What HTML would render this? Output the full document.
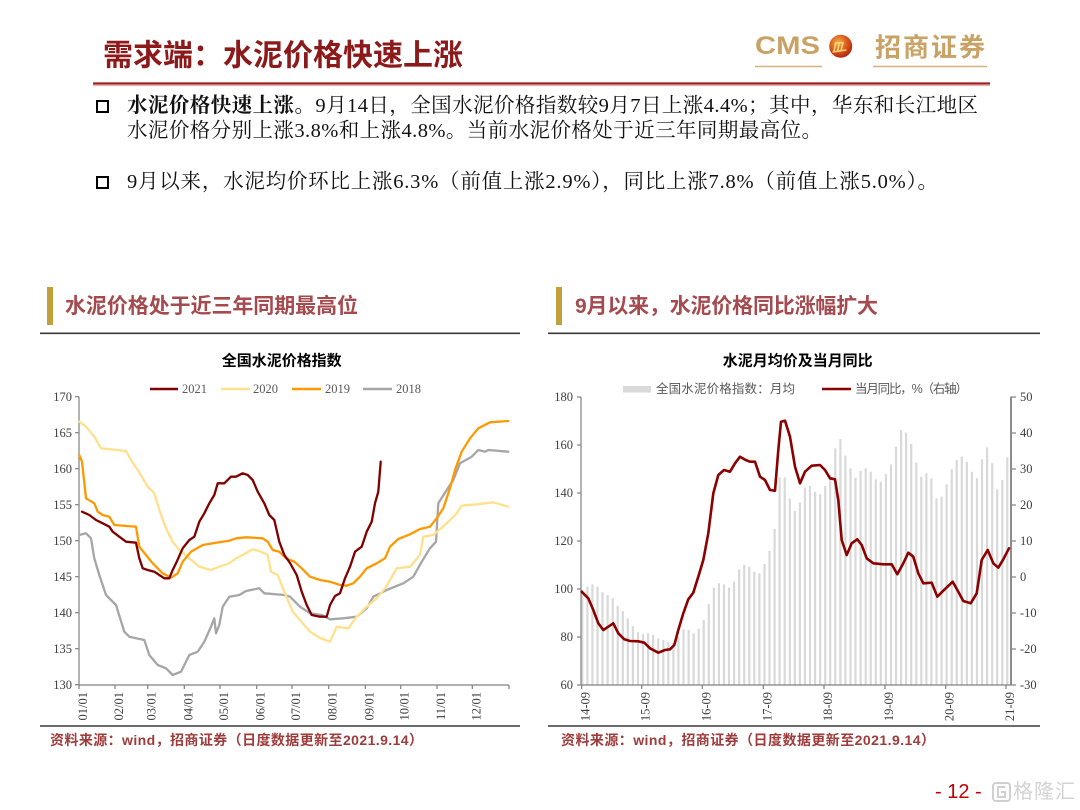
<!DOCTYPE html>
<html><head><meta charset="utf-8"><style>
html,body{margin:0;padding:0;background:#fff;}
#page{position:relative;width:1080px;height:810px;overflow:hidden;background:#fff;}
.sq{position:absolute;width:9px;height:9px;border:2px solid #000;}
svg text{font-family:"Liberation Serif","Noto Serif CJK SC",serif;}
.sans{font-family:"Liberation Sans","Noto Sans CJK SC",sans-serif !important;}
</style></head><body><div id="page">
<svg width="1080" height="810" viewBox="0 0 1080 810" style="position:absolute;left:0;top:0">
<defs>
<radialGradient id="lg" cx="40%" cy="35%" r="70%"><stop offset="0" stop-color="#f7b347"/><stop offset="0.6" stop-color="#d9501c"/><stop offset="1" stop-color="#a52010"/></radialGradient>
</defs>
<!-- header -->
<text class="sans" x="103" y="56" font-size="30" font-weight="bold" fill="#8c1a1a" dominant-baseline="central" textLength="360">需求端：水泥价格快速上涨</text>
<text class="sans" x="755" y="46" font-size="25" font-weight="bold" fill="#c9a265" dominant-baseline="central" textLength="65" lengthAdjust="spacingAndGlyphs">CMS</text>
<circle cx="840.7" cy="46.3" r="11.5" fill="url(#lg)"/>
<path d="M834 51 L836 42 M837.5 51 L839.5 42 M841 51 L843 42 M834.5 45 Q837 41 839 44 Q841 41 843.5 44 M832.5 52 L846.5 50" stroke="#f6d47a" stroke-width="1.6" fill="none"/>
<text class="sans" x="875" y="47.5" font-size="26" font-weight="bold" fill="#c9a265" dominant-baseline="central" textLength="110">招商证券</text>
<line x1="755" y1="66.5" x2="822" y2="66.5" stroke="#d4b47c" stroke-width="1.5"/>
<line x1="873" y1="66.5" x2="987" y2="66.5" stroke="#d4b47c" stroke-width="1.5"/>
<line x1="93" y1="83.5" x2="990" y2="83.5" stroke="#a11d1d" stroke-width="2.2"/>
<line x1="93" y1="85.6" x2="990" y2="85.6" stroke="#dcaaaa" stroke-width="1"/>

<!-- paragraph text -->
<text x="127" y="106" font-size="20.5" fill="#111" dominant-baseline="central" textLength="851" lengthAdjust="spacing"><tspan font-weight="bold">水泥价格快速上涨。</tspan>9月14日，全国水泥价格指数较9月7日上涨4.4%；其中，华东和长江地区</text>
<text x="127" y="131" font-size="20.5" fill="#111" dominant-baseline="central" textLength="695" lengthAdjust="spacing">水泥价格分别上涨3.8%和上涨4.8%。当前水泥价格处于近三年同期最高位。</text>
<text x="127" y="182" font-size="20.5" fill="#111" dominant-baseline="central" textLength="811" lengthAdjust="spacing">9月以来，水泥均价环比上涨6.3%（前值上涨2.9%），同比上涨7.8%（前值上涨5.0%）。</text>

<!-- section headers -->
<rect x="47" y="287" width="6" height="38" fill="#c2a03c"/>
<text class="sans" x="65" y="306.5" font-size="21" font-weight="bold" fill="#a54a4e" dominant-baseline="central" textLength="293">水泥价格处于近三年同期最高位</text>
<line x1="40" y1="333.3" x2="520" y2="333.3" stroke="#3a3a3a" stroke-width="1.6"/>
<rect x="556" y="287" width="6" height="38" fill="#c2a03c"/>
<text class="sans" x="575" y="306.5" font-size="21" font-weight="bold" fill="#a54a4e" dominant-baseline="central" textLength="303">9月以来，水泥价格同比涨幅扩大</text>
<line x1="548" y1="333.3" x2="1040" y2="333.3" stroke="#3a3a3a" stroke-width="1.6"/>

<!-- LEFT CHART -->
<text class="sans" x="281.7" y="361" font-size="15" font-weight="bold" fill="#000" text-anchor="middle" dominant-baseline="central" textLength="120">全国水泥价格指数</text>
<line x1="150" y1="389" x2="178" y2="389" stroke="#800000" stroke-width="2.5"/>
<text x="182" y="389" font-size="12.5" fill="#595959" dominant-baseline="central">2021</text>
<line x1="221" y1="389" x2="250" y2="389" stroke="#ffe08c" stroke-width="2.5"/>
<text x="253" y="389" font-size="12.5" fill="#595959" dominant-baseline="central">2020</text>
<line x1="292" y1="389" x2="321" y2="389" stroke="#ff9900" stroke-width="2.5"/>
<text x="325" y="389" font-size="12.5" fill="#595959" dominant-baseline="central">2019</text>
<line x1="363" y1="389" x2="392" y2="389" stroke="#a6a6a6" stroke-width="2.5"/>
<text x="396" y="389" font-size="12.5" fill="#595959" dominant-baseline="central">2018</text>

<g stroke="#808080" stroke-width="1.2">
<line x1="79" y1="396.7" x2="79" y2="685"/>
<line x1="79" y1="685" x2="509" y2="685"/>
<line x1="75" y1="396.7" x2="79" y2="396.7"/><line x1="75" y1="432.7" x2="79" y2="432.7"/><line x1="75" y1="468.7" x2="79" y2="468.7"/><line x1="75" y1="504.7" x2="79" y2="504.7"/><line x1="75" y1="540.7" x2="79" y2="540.7"/><line x1="75" y1="576.7" x2="79" y2="576.7"/><line x1="75" y1="612.7" x2="79" y2="612.7"/><line x1="75" y1="648.7" x2="79" y2="648.7"/><line x1="75" y1="684.7" x2="79" y2="684.7"/>
<line x1="79" y1="685" x2="79" y2="689"/><line x1="115" y1="685" x2="115" y2="689"/><line x1="147.7" y1="685" x2="147.7" y2="689"/><line x1="184.3" y1="685" x2="184.3" y2="689"/><line x1="220" y1="685" x2="220" y2="689"/><line x1="256.7" y1="685" x2="256.7" y2="689"/><line x1="292" y1="685" x2="292" y2="689"/><line x1="328.7" y1="685" x2="328.7" y2="689"/><line x1="365.3" y1="685" x2="365.3" y2="689"/><line x1="400.7" y1="685" x2="400.7" y2="689"/><line x1="437" y1="685" x2="437" y2="689"/><line x1="472.3" y1="685" x2="472.3" y2="689"/><line x1="509" y1="685" x2="509" y2="689"/>
</g>
<g font-size="12.5" fill="#404040" text-anchor="end">
<text x="72" y="401">170</text><text x="72" y="437">165</text><text x="72" y="473">160</text><text x="72" y="509">155</text><text x="72" y="545">150</text><text x="72" y="581">145</text><text x="72" y="617">140</text><text x="72" y="653">135</text><text x="72" y="689">130</text>
</g>
<g font-size="12.5" fill="#404040" text-anchor="end">
<text transform="translate(87,692) rotate(-90)">01/01</text>
<text transform="translate(123,692) rotate(-90)">02/01</text>
<text transform="translate(155.7,692) rotate(-90)">03/01</text>
<text transform="translate(192.3,692) rotate(-90)">04/01</text>
<text transform="translate(228,692) rotate(-90)">05/01</text>
<text transform="translate(264.7,692) rotate(-90)">06/01</text>
<text transform="translate(300,692) rotate(-90)">07/01</text>
<text transform="translate(336.7,692) rotate(-90)">08/01</text>
<text transform="translate(373.3,692) rotate(-90)">09/01</text>
<text transform="translate(408.7,692) rotate(-90)">10/01</text>
<text transform="translate(445,692) rotate(-90)">11/01</text>
<text transform="translate(480.3,692) rotate(-90)">12/01</text>
</g>
<g fill="none" stroke-width="2.3" stroke-linejoin="round" stroke-linecap="round">
<polyline stroke="#a6a6a6" points="79.3,535 86,533.3 91,538.3 94.3,558.3 99.3,575 106,595 116,605 124.3,631.7 129.3,636.7 144.3,640 149.3,655 157.7,665 166,668.3 172.7,675 181,671.7 189.3,655 197.7,651.7 204.3,641.7 211,626.7 214.3,618.3 216,633.3 219.3,625 222.7,606.7 229.3,596.7 239.3,595 246,591 259.3,588.3 264.3,593.3 284.3,595 290,596.7 300,606.7 310,613.3 321.7,615 330,619.3 343.3,618.3 356.7,616.7 366.7,608.3 373.3,596.7 386.7,590 403.3,583.3 413.3,576.7 421.7,561.7 430,548.3 436,541.7 438.3,503.3 446.7,490 453.3,480 460,463.3 471.7,456.7 478.3,450 485,451.7 488.3,450 508.3,451.7"/>
<polyline stroke="#ffe08c" points="79.3,421.7 86,426.7 94.3,436.7 101,448.3 126,451 131,460 137.7,470 142.7,478.3 147.7,486.7 154.3,493.3 159.3,510 166,528.3 172.7,541.7 179.3,550 189.3,558.3 199.3,566.7 211,570 219.3,566.7 229.3,563.3 236,558.3 242.7,555 252.7,549.3 261,551.7 267.7,555 271,571.7 277.7,575 284.3,591.7 292.7,611.7 300,620 310,631.7 320,638 330,641.7 336.7,626.7 348.3,628.3 356.7,616.7 365,608.3 376.7,598.3 385,588.3 390,580 396.7,568.3 410,566.7 420,555 423.3,536.7 433.3,535 446.7,523.3 456.7,513.3 461.7,505.7 476.7,504.3 493.3,502.3 508.3,506.7"/>
<polyline stroke="#ff9900" points="79.3,455 82,461.7 86,498.3 94.3,503.3 97.7,511.7 102.7,515 109.3,516.7 114.3,525 136,526.7 139.3,546.7 146,555 152.7,563.3 162.7,573.3 171,577.7 177.7,573.3 182.7,561.7 191,551.7 202.7,545 216,542.7 229.3,540.7 236,538.3 246,537.3 262.7,538.3 267.7,541.7 272.7,550 279.3,551.7 286,558.3 294.3,561.7 301.7,568.3 310,576.7 320,580 330,581.7 340,585 346.7,585.7 353.3,583.3 360,576.7 366.7,568.3 376.7,563.3 385,558.3 390,546.7 398.3,539 410,534.3 420,529 430,526.7 436.7,518.3 443.3,508.3 450,488.3 455,470 461.7,451.7 470,438.3 478.3,428.3 490,422.3 508.3,421"/>
<polyline stroke="#800000" points="82,511.7 89.3,515 96,520 102.7,523.3 109.3,526.7 112.7,531.7 119.3,536.7 126,541.7 136,542.7 139.3,558.3 142.7,568.3 147.7,570 154.3,571.7 159.3,575 164.3,578.3 169.3,578.3 172.7,570 176,563.3 182.7,548.3 189.3,540 194.3,536.7 199.3,521.7 204.3,513.3 209.3,503.3 214.3,495 217.7,483.3 224.3,483.3 231,476.7 236,476.7 242.7,473.3 247.7,475 252.7,480 257.7,491.7 264.3,503.3 269.3,515 274.3,520 279.3,541.7 284.3,555 290,563 296.7,575 301.7,591.7 306.7,605 311.7,615 320,616.7 326.7,616.7 330,605 335,596 340,593.3 345,578.3 350,566.7 355,551.7 361.7,546.7 366.7,531.7 371.7,521.7 375,503.3 378.3,491.7 380.7,461.7"/>
</g>
<line x1="40" y1="726" x2="520" y2="726" stroke="#3a3a3a" stroke-width="1.6"/>
<text class="sans" x="50" y="740" font-size="14" font-weight="bold" fill="#a03b3b" dominant-baseline="central" textLength="373">资料来源：wind，招商证券（日度数据更新至2021.9.14）</text>

<!-- RIGHT CHART -->
<text class="sans" x="797.7" y="361" font-size="15" font-weight="bold" fill="#000" text-anchor="middle" dominant-baseline="central" textLength="150">水泥月均价及当月同比</text>
<rect x="623" y="386" width="28" height="6.5" fill="#d9d9d9"/>
<text class="sans" x="656" y="389" font-size="12.5" fill="#595959" dominant-baseline="central" textLength="139">全国水泥价格指数：月均</text>
<line x1="822" y1="389" x2="851" y2="389" stroke="#8b0000" stroke-width="2.5"/>
<text class="sans" x="855" y="389" font-size="12.5" fill="#595959" dominant-baseline="central" textLength="113">当月同比，%（右轴）</text>

<g fill="#d9d9d9">
<rect x="581.2" y="590" width="2.2" height="95"/><rect x="586.3" y="586.7" width="2.2" height="98.3"/><rect x="591.3" y="584.3" width="2.2" height="100.7"/><rect x="596.4" y="586.7" width="2.2" height="98.3"/><rect x="601.4" y="592.3" width="2.2" height="92.7"/><rect x="606.5" y="595" width="2.2" height="90"/><rect x="611.6" y="598.3" width="2.2" height="86.7"/><rect x="616.6" y="605.7" width="2.2" height="79.3"/><rect x="621.7" y="611" width="2.2" height="74"/><rect x="626.7" y="618.3" width="2.2" height="66.7"/>
<rect x="631.8" y="626" width="2.2" height="59"/><rect x="636.9" y="632.3" width="2.2" height="52.7"/><rect x="641.9" y="634" width="2.2" height="51"/><rect x="647.0" y="633.3" width="2.2" height="51.7"/><rect x="652.0" y="635" width="2.2" height="50"/><rect x="657.1" y="638.3" width="2.2" height="46.7"/><rect x="662.2" y="640" width="2.2" height="45"/><rect x="667.2" y="641.7" width="2.2" height="43.3"/><rect x="672.3" y="643" width="2.2" height="42"/><rect x="677.3" y="637" width="2.2" height="48"/>
<rect x="682.4" y="629.3" width="2.2" height="55.7"/><rect x="687.5" y="630" width="2.2" height="55"/><rect x="692.5" y="633.3" width="2.2" height="51.7"/><rect x="697.6" y="628.7" width="2.2" height="56.3"/><rect x="702.6" y="620" width="2.2" height="65"/><rect x="707.7" y="604" width="2.2" height="81"/><rect x="712.8" y="587.7" width="2.2" height="97.3"/><rect x="717.8" y="583.3" width="2.2" height="101.7"/><rect x="722.9" y="584.3" width="2.2" height="100.7"/><rect x="727.9" y="587.7" width="2.2" height="97.3"/>
<rect x="733.0" y="581.7" width="2.2" height="103.3"/><rect x="738.1" y="569.3" width="2.2" height="115.7"/><rect x="743.1" y="565" width="2.2" height="120"/><rect x="748.2" y="566.7" width="2.2" height="118.3"/><rect x="753.2" y="571.7" width="2.2" height="113.3"/><rect x="758.3" y="573.3" width="2.2" height="111.7"/><rect x="763.4" y="564" width="2.2" height="121"/><rect x="768.4" y="551" width="2.2" height="134"/><rect x="773.5" y="529" width="2.2" height="156"/><rect x="778.5" y="477.3" width="2.2" height="207.7"/>
<rect x="783.6" y="477.3" width="2.2" height="207.7"/><rect x="788.7" y="498.3" width="2.2" height="186.7"/><rect x="793.7" y="511" width="2.2" height="174"/><rect x="798.8" y="502.5" width="2.2" height="182.5"/><rect x="803.8" y="487.3" width="2.2" height="197.7"/><rect x="808.9" y="486" width="2.2" height="199"/><rect x="814.0" y="491.7" width="2.2" height="193.3"/><rect x="819.0" y="494.3" width="2.2" height="190.7"/><rect x="824.1" y="486" width="2.2" height="199"/><rect x="829.1" y="475" width="2.2" height="210"/>
<rect x="834.2" y="448.3" width="2.2" height="236.7"/><rect x="839.3" y="439" width="2.2" height="246"/><rect x="844.3" y="455.7" width="2.2" height="229.3"/><rect x="849.4" y="468.3" width="2.2" height="216.7"/><rect x="854.4" y="477.7" width="2.2" height="207.3"/><rect x="859.5" y="471" width="2.2" height="214"/><rect x="864.6" y="468.3" width="2.2" height="216.7"/><rect x="869.6" y="471.7" width="2.2" height="213.3"/><rect x="874.7" y="479.3" width="2.2" height="205.7"/><rect x="879.7" y="481.7" width="2.2" height="203.3"/>
<rect x="884.8" y="474" width="2.2" height="211"/><rect x="889.9" y="464.3" width="2.2" height="220.7"/><rect x="894.9" y="446.7" width="2.2" height="238.3"/><rect x="900.0" y="430" width="2.2" height="255"/><rect x="905.0" y="432.7" width="2.2" height="252.3"/><rect x="910.1" y="444" width="2.2" height="241"/><rect x="915.2" y="462.7" width="2.2" height="222.3"/><rect x="920.2" y="476.7" width="2.2" height="208.3"/><rect x="925.3" y="473.3" width="2.2" height="211.7"/><rect x="930.3" y="478.3" width="2.2" height="206.7"/>
<rect x="935.4" y="498.3" width="2.2" height="186.7"/><rect x="940.5" y="496.7" width="2.2" height="188.3"/><rect x="945.5" y="484.3" width="2.2" height="200.7"/><rect x="950.6" y="469.3" width="2.2" height="215.7"/><rect x="955.6" y="460" width="2.2" height="225"/><rect x="960.7" y="456.7" width="2.2" height="228.3"/><rect x="965.8" y="461.7" width="2.2" height="223.3"/><rect x="970.8" y="471.7" width="2.2" height="213.3"/><rect x="975.9" y="478.3" width="2.2" height="206.7"/><rect x="980.9" y="459.3" width="2.2" height="225.7"/>
<rect x="986.0" y="447.3" width="2.2" height="237.7"/><rect x="991.1" y="463.3" width="2.2" height="221.7"/><rect x="996.1" y="489.3" width="2.2" height="195.7"/><rect x="1001.2" y="480" width="2.2" height="205"/><rect x="1006.2" y="457.3" width="2.2" height="227.7"/>
</g>

<g stroke="#808080" stroke-width="1.2">
<line x1="581" y1="396.7" x2="581" y2="685"/>
<line x1="1011" y1="396.7" x2="1011" y2="685" stroke-width="1.8"/>
<line x1="581" y1="685" x2="1011" y2="685"/>
<line x1="577" y1="397" x2="581" y2="397"/><line x1="577" y1="445" x2="581" y2="445"/><line x1="577" y1="493" x2="581" y2="493"/><line x1="577" y1="541" x2="581" y2="541"/><line x1="577" y1="589" x2="581" y2="589"/><line x1="577" y1="637" x2="581" y2="637"/><line x1="577" y1="685" x2="581" y2="685"/>
<line x1="1011" y1="397" x2="1016" y2="397"/><line x1="1011" y1="433" x2="1016" y2="433"/><line x1="1011" y1="469" x2="1016" y2="469"/><line x1="1011" y1="505" x2="1016" y2="505"/><line x1="1011" y1="541" x2="1016" y2="541"/><line x1="1011" y1="577" x2="1016" y2="577"/><line x1="1011" y1="613" x2="1016" y2="613"/><line x1="1011" y1="649" x2="1016" y2="649"/><line x1="1011" y1="685" x2="1016" y2="685"/>
<line x1="581.7" y1="685" x2="581.7" y2="689"/><line x1="641.7" y1="685" x2="641.7" y2="689"/><line x1="702.3" y1="685" x2="702.3" y2="689"/><line x1="763.3" y1="685" x2="763.3" y2="689"/><line x1="824" y1="685" x2="824" y2="689"/><line x1="885" y1="685" x2="885" y2="689"/><line x1="945.7" y1="685" x2="945.7" y2="689"/><line x1="1006" y1="685" x2="1006" y2="689"/>
</g>
<g font-size="12.5" fill="#404040" text-anchor="end">
<text x="573" y="401">180</text><text x="573" y="449">160</text><text x="573" y="497">140</text><text x="573" y="545">120</text><text x="573" y="593">100</text><text x="573" y="641">80</text><text x="573" y="689">60</text>
</g>
<g font-size="12.5" fill="#404040">
<text x="1020" y="401">50</text><text x="1020" y="437">40</text><text x="1020" y="473">30</text><text x="1020" y="509">20</text><text x="1020" y="545">10</text><text x="1020" y="581">0</text><text x="1020" y="617">-10</text><text x="1020" y="653">-20</text><text x="1020" y="689">-30</text>
</g>
<g font-size="12.5" fill="#404040" text-anchor="end">
<text transform="translate(589.7,692) rotate(-90)">14-09</text>
<text transform="translate(649.7,692) rotate(-90)">15-09</text>
<text transform="translate(710.3,692) rotate(-90)">16-09</text>
<text transform="translate(771.3,692) rotate(-90)">17-09</text>
<text transform="translate(832,692) rotate(-90)">18-09</text>
<text transform="translate(893,692) rotate(-90)">19-09</text>
<text transform="translate(953.7,692) rotate(-90)">20-09</text>
<text transform="translate(1014,692) rotate(-90)">21-09</text>
</g>
<polyline fill="none" stroke="#8b0000" stroke-width="2.6" stroke-linejoin="round" stroke-linecap="round" points="581.7,591.7 588.3,598.3 593.3,610 598.3,623.3 603.3,630 608.3,626.7 613.3,623.3 618.3,633.3 624.3,639.3 630,641 638.3,641.3 644.3,642.7 650,648.3 658.3,652.7 665,650 670,649.3 674.3,645 678.3,630 683.3,613.3 688.3,599.3 693.3,592.7 698.3,576.7 703.3,560 708.3,533.3 713.3,493.3 718.3,475 724,470 730,471.7 735,463.3 740,456.7 745.7,460 750,461.7 755,461.7 760,476.7 765,480 770,490 775,490.7 778.3,450 781,421.7 785,420.7 790,436.7 795,466.7 800,483.3 805,471.7 811.7,465.7 820,465 825,470 830,478.3 835,479.3 838.3,500 841.7,540 846.7,555 851.7,543.3 857.3,539.3 861.7,545 866.7,558.3 873.3,563.3 883.3,564.3 891.7,564.3 897.3,574.3 903.3,563.3 908.3,552.7 913.3,556.7 918.3,573.3 923.3,583.3 931.7,582.7 937.3,596.7 943.3,590.7 952.7,581.7 958.3,591.7 963.3,601 970.7,603.3 976.7,593.3 981.7,560 987.7,550 993.3,563.3 998.3,567.7 1003.3,559.3 1009,548.3"/>
<line x1="548" y1="726" x2="1040" y2="726" stroke="#3a3a3a" stroke-width="1.6"/>
<text class="sans" x="561" y="740" font-size="14" font-weight="bold" fill="#a03b3b" dominant-baseline="central" textLength="374">资料来源：wind，招商证券（日度数据更新至2021.9.14）</text>

<!-- footer -->
<text class="sans" x="935" y="792" font-size="20" fill="#c00000" dominant-baseline="central">- 12 -</text>
<rect x="993" y="783" width="17" height="18" rx="3" fill="none" stroke="#d0d0d0" stroke-width="2"/>
<path d="M1005 787 L998 787 L998 797 L1005 797 L1005 792 L1001 792" fill="none" stroke="#d0d0d0" stroke-width="2"/>
<text class="sans" x="1013" y="792" font-size="20" fill="#d3d3d3" dominant-baseline="central" textLength="62">格隆汇</text>
</svg>

<div class="sq" style="left:96px;top:100px"></div>
<div class="sq" style="left:96px;top:176px"></div>
</div></body></html>
